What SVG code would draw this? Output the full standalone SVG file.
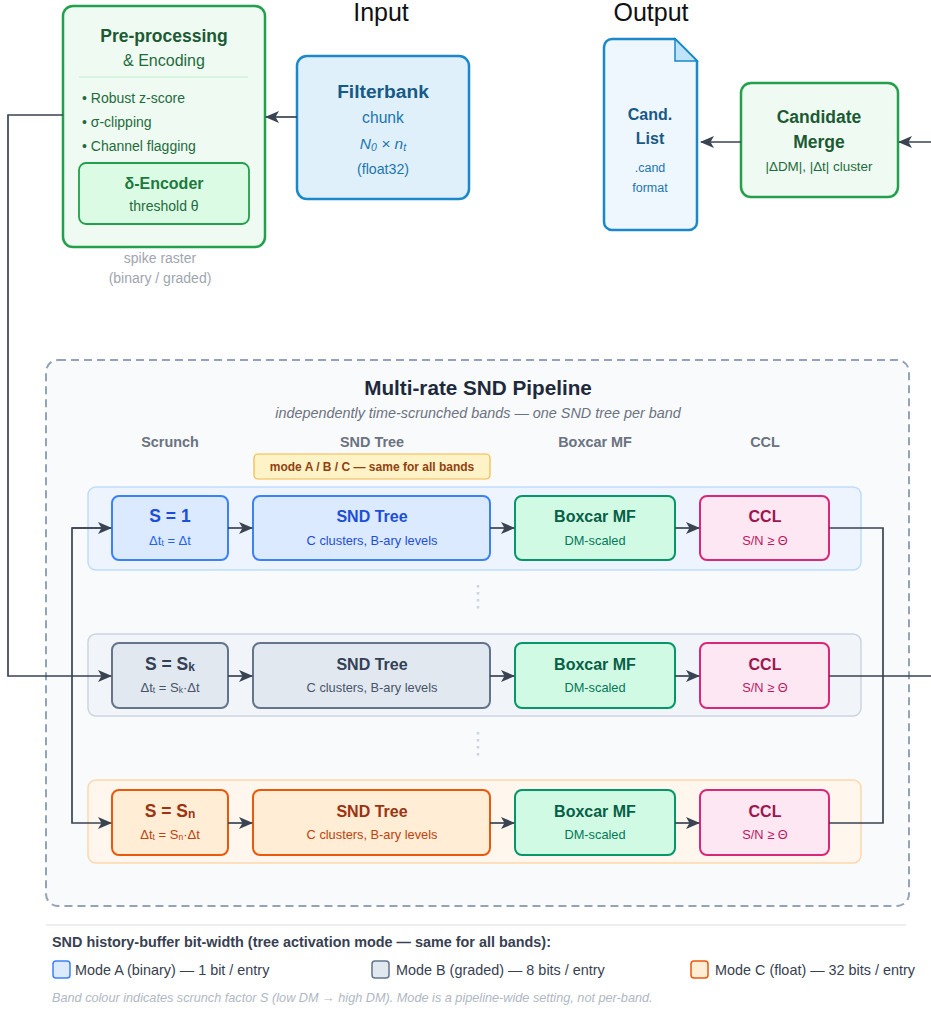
<svg xmlns="http://www.w3.org/2000/svg" width="931" height="1015" viewBox="0 0 931 1015">
<style>
text{font-family:"Liberation Sans",Arial,sans-serif;text-anchor:middle}
.st{text-anchor:start}
.b{font-weight:bold}
.hdr{font-size:25px;fill:#111}
.conn{fill:none;stroke:#3a4352;stroke-width:1.7}
.t15{font-size:16px;font-weight:bold}
.s12{font-size:12.8px}
.col{font-size:14.4px;font-weight:bold;fill:#6b7280}
.leg{font-size:14.4px;fill:#374151;text-anchor:start}
</style>
<defs>
<marker id="ah" viewBox="0 0 14 12" refX="13" refY="6" markerWidth="14" markerHeight="12" markerUnits="userSpaceOnUse" orient="auto">
<path d="M0,0 L14,6 L0,12 L3.5,6 z" fill="#3a4352"/>
</marker>
</defs>
<rect width="931" height="1015" fill="#ffffff"/>

<text class="hdr" x="381" y="21">Input</text>
<text class="hdr" x="651" y="21">Output</text>

<g id="pipeline-container">
<rect x="46" y="360" width="863" height="546" rx="12" fill="#f8fafc" stroke="#94a3b8" stroke-width="2" stroke-dasharray="8 5"/>
<text class="b" x="478" y="395" font-size="20.7" fill="#1e293b">Multi-rate SND Pipeline</text>
<text x="478" y="418" font-size="14.4" font-style="italic" fill="#6b7280">independently time-scrunched bands — one SND tree per band</text>
<text class="col" x="170" y="447">Scrunch</text>
<text class="col" x="372" y="447">SND Tree</text>
<text class="col" x="595" y="447">Boxcar MF</text>
<text class="col" x="765" y="447">CCL</text>
<rect x="254" y="454" width="236" height="25" rx="4" fill="#fef3c7" stroke="#f3b744" stroke-width="1.2"/>
<text class="b" x="372" y="471" font-size="12" fill="#92400e">mode A / B / C — same for all bands</text>
</g>

<g id="preprocessing">
<rect x="63" y="6" width="202" height="241" rx="10" fill="#effbf2" stroke="#22a04b" stroke-width="2.5"/>
<text class="b" x="164" y="42" font-size="17.5" fill="#1c5a34">Pre-processing</text>
<text x="164" y="66" font-size="16" fill="#1f6b3d">&amp; Encoding</text>
<line x1="79" y1="77" x2="248" y2="77" stroke="#bbf0cc" stroke-width="1.2"/>
<text class="st" x="82" y="103" font-size="14" fill="#1f6b3d">• Robust z-score</text>
<text class="st" x="82" y="127" font-size="14" fill="#1f6b3d">• σ-clipping</text>
<text class="st" x="82" y="151" font-size="14" fill="#1f6b3d">• Channel flagging</text>
<rect x="79" y="163" width="170" height="61" rx="7" fill="#dcfbe5" stroke="#22a04b" stroke-width="1.8"/>
<text class="b" x="164" y="189" font-size="16" fill="#1c7a3e">δ-Encoder</text>
<text x="164" y="211" font-size="14" fill="#1f6b3d">threshold θ</text>
<text x="160" y="263" font-size="14" fill="#a0a6b0">spike raster</text>
<text x="160" y="283" font-size="14" fill="#a0a6b0">(binary / graded)</text>
</g>

<g id="filterbank">
<rect x="297" y="56" width="172" height="143" rx="10" fill="#e0f0fb" stroke="#1a88c9" stroke-width="2.5"/>
<text class="b" x="383" y="98" font-size="19.2" fill="#175a86">Filterbank</text>
<text x="383" y="123" font-size="15.7" fill="#1c76ad">chunk</text>
<text x="383" y="149" font-size="15.5" font-style="italic" fill="#1c76ad">N<tspan font-size="10.5" dy="2">0</tspan><tspan dy="-2"> × n</tspan><tspan font-size="10.5" dy="2">t</tspan></text>
<text x="383" y="174" font-size="14.2" fill="#1c76ad">(float32)</text>
</g>

<g id="cand-list">
<path d="M612,39 H675 L697,61 V222 A8,8 0 0 1 689,230 H612 A8,8 0 0 1 604,222 V47 A8,8 0 0 1 612,39 z" fill="#eef6fe" stroke="#1a88c9" stroke-width="2.5"/>
<path d="M675,39 V61 H697 z" fill="#bfe3f8" stroke="#1a88c9" stroke-width="1.5"/>
<text class="b" x="650" y="120" font-size="16" fill="#175a86">Cand.</text>
<text class="b" x="650" y="144" font-size="16" fill="#175a86">List</text>
<text x="650" y="172" font-size="12.5" fill="#1c76ad">.cand</text>
<text x="650" y="192" font-size="12.5" fill="#1c76ad">format</text>
</g>

<g id="candidate-merge">
<rect x="741" y="83" width="157" height="114" rx="10" fill="#effbf2" stroke="#22a04b" stroke-width="2.5"/>
<text class="b" x="819" y="123" font-size="17.5" fill="#1c5a34">Candidate</text>
<text class="b" x="819" y="148" font-size="17.5" fill="#1c5a34">Merge</text>
<text x="819" y="171" font-size="13.4" fill="#1f6b3d">|ΔDM|, |Δt| cluster</text>
</g>

<g id="band-1">
<rect x="88" y="487" width="773" height="83" rx="8" fill="#eef4fe" stroke="#bfdbfe" stroke-width="1.5"/>
<rect x="112" y="496" width="116" height="64" rx="7" fill="#dbeafe" stroke="#3b82f6" stroke-width="2"/>
<text class="b" x="170" y="522" font-size="17.5" fill="#1d4ed8">S = 1</text>
<text x="170" y="545" font-size="13" fill="#2563eb">Δt<tspan font-size="8.5" dy="1">t</tspan><tspan dy="-1"> = Δt</tspan></text>
<rect x="253" y="496" width="237" height="64" rx="7" fill="#dbeafe" stroke="#3b82f6" stroke-width="2"/>
<text class="t15" x="372" y="522" fill="#1d4ed8">SND Tree</text>
<text class="s12" x="372" y="545" fill="#1d4ed8">C clusters, B-ary levels</text>
<rect x="515" y="496" width="160" height="64" rx="7" fill="#d1fae5" stroke="#059669" stroke-width="2"/>
<text class="t15" x="595" y="522" fill="#065f46">Boxcar MF</text>
<text class="s12" x="595" y="545" fill="#047857">DM-scaled</text>
<rect x="700" y="496" width="129" height="64" rx="7" fill="#fce7f3" stroke="#db2777" stroke-width="2"/>
<text class="t15" x="765" y="522" fill="#9d174d">CCL</text>
<text class="s12" x="765" y="545" fill="#be185d">S/N ≥ Θ</text>
</g>

<g id="band-k">
<rect x="88" y="634" width="773" height="82" rx="8" fill="#f1f5f9" stroke="#cbd5e1" stroke-width="1.5"/>
<rect x="112" y="643" width="116" height="65" rx="7" fill="#e2e8f0" stroke="#64748b" stroke-width="2"/>
<text class="b" x="170" y="670" font-size="17.5" fill="#334155">S = S<tspan font-size="12" dy="1">k</tspan></text>
<text x="170" y="692" font-size="13" fill="#475569">Δt<tspan font-size="8.5" dy="1">t</tspan><tspan dy="-1"> = S</tspan><tspan font-size="8.5" dy="1">k</tspan><tspan dy="-1">·Δt</tspan></text>
<rect x="253" y="643" width="237" height="65" rx="7" fill="#e2e8f0" stroke="#64748b" stroke-width="2"/>
<text class="t15" x="372" y="670" fill="#334155">SND Tree</text>
<text class="s12" x="372" y="692" fill="#475569">C clusters, B-ary levels</text>
<rect x="515" y="643" width="160" height="65" rx="7" fill="#d1fae5" stroke="#059669" stroke-width="2"/>
<text class="t15" x="595" y="670" fill="#065f46">Boxcar MF</text>
<text class="s12" x="595" y="692" fill="#047857">DM-scaled</text>
<rect x="700" y="643" width="129" height="65" rx="7" fill="#fce7f3" stroke="#db2777" stroke-width="2"/>
<text class="t15" x="765" y="670" fill="#9d174d">CCL</text>
<text class="s12" x="765" y="692" fill="#be185d">S/N ≥ Θ</text>
</g>

<g id="band-n">
<rect x="88" y="780" width="773" height="83" rx="8" fill="#fff7ed" stroke="#fed7aa" stroke-width="1.5"/>
<rect x="112" y="790" width="116" height="65" rx="7" fill="#ffedd5" stroke="#ea580c" stroke-width="2"/>
<text class="b" x="170" y="817" font-size="17.5" fill="#9a3412">S = S<tspan font-size="12" dy="1">n</tspan></text>
<text x="170" y="839" font-size="13" fill="#c2410c">Δt<tspan font-size="8.5" dy="1">t</tspan><tspan dy="-1"> = S</tspan><tspan font-size="8.5" dy="1">n</tspan><tspan dy="-1">·Δt</tspan></text>
<rect x="253" y="790" width="237" height="65" rx="7" fill="#ffedd5" stroke="#ea580c" stroke-width="2"/>
<text class="t15" x="372" y="817" fill="#9a3412">SND Tree</text>
<text class="s12" x="372" y="839" fill="#c2410c">C clusters, B-ary levels</text>
<rect x="515" y="790" width="160" height="65" rx="7" fill="#d1fae5" stroke="#059669" stroke-width="2"/>
<text class="t15" x="595" y="817" fill="#065f46">Boxcar MF</text>
<text class="s12" x="595" y="839" fill="#047857">DM-scaled</text>
<rect x="700" y="790" width="129" height="65" rx="7" fill="#fce7f3" stroke="#db2777" stroke-width="2"/>
<text class="t15" x="765" y="817" fill="#9d174d">CCL</text>
<text class="s12" x="765" y="839" fill="#be185d">S/N ≥ Θ</text>
</g>

<g id="ellipsis">
<line x1="478" y1="585" x2="478" y2="612" stroke="#cbd5e1" stroke-width="2.5" stroke-dasharray="2.5 4.5"/>
<line x1="478" y1="732" x2="478" y2="760" stroke="#cbd5e1" stroke-width="2.5" stroke-dasharray="2.5 4.5"/>
</g>

<g id="connectors">
<path class="conn" d="M297,117 H266" marker-end="url(#ah)"/>
<path class="conn" d="M741,142 H701" marker-end="url(#ah)"/>
<path class="conn" d="M829,676 H940 V142 H899" marker-end="url(#ah)"/>
<path class="conn" d="M829,528 H883 V823 H829"/>
<path class="conn" d="M63,115 H8 V676 H111" marker-end="url(#ah)"/>
<path class="conn" d="M111,528 H72 V823 H111" marker-end="url(#ah)"/>
<path class="conn" d="M72,528 H111" marker-end="url(#ah)"/>
<path class="conn" d="M228,528 H252" marker-end="url(#ah)"/>
<path class="conn" d="M490,528 H514" marker-end="url(#ah)"/>
<path class="conn" d="M675,528 H699" marker-end="url(#ah)"/>
<path class="conn" d="M228,676 H252" marker-end="url(#ah)"/>
<path class="conn" d="M490,676 H514" marker-end="url(#ah)"/>
<path class="conn" d="M675,676 H699" marker-end="url(#ah)"/>
<path class="conn" d="M228,823 H252" marker-end="url(#ah)"/>
<path class="conn" d="M490,823 H514" marker-end="url(#ah)"/>
<path class="conn" d="M675,823 H699" marker-end="url(#ah)"/>
</g>

<g id="legend">
<line x1="46" y1="925" x2="906" y2="925" stroke="#e5e7eb" stroke-width="1.5"/>
<text class="leg b" x="52" y="947">SND history-buffer bit-width (tree activation mode — same for all bands):</text>
<rect x="53" y="961" width="17" height="17" rx="3" fill="#dbeafe" stroke="#3b82f6" stroke-width="1.5"/>
<text class="leg" x="75" y="975">Mode A (binary) — 1 bit / entry</text>
<rect x="372" y="961" width="17" height="17" rx="3" fill="#e2e8f0" stroke="#64748b" stroke-width="1.5"/>
<text class="leg" x="396" y="975">Mode B (graded) — 8 bits / entry</text>
<rect x="691" y="961" width="17" height="17" rx="3" fill="#ffedd5" stroke="#ea580c" stroke-width="1.5"/>
<text class="leg" x="715" y="975">Mode C (float) — 32 bits / entry</text>
<text class="st" x="52" y="1002" font-size="12.7" font-style="italic" fill="#b0b8c4">Band colour indicates scrunch factor S (low DM → high DM). Mode is a pipeline-wide setting, not per-band.</text>
</g>
</svg>
